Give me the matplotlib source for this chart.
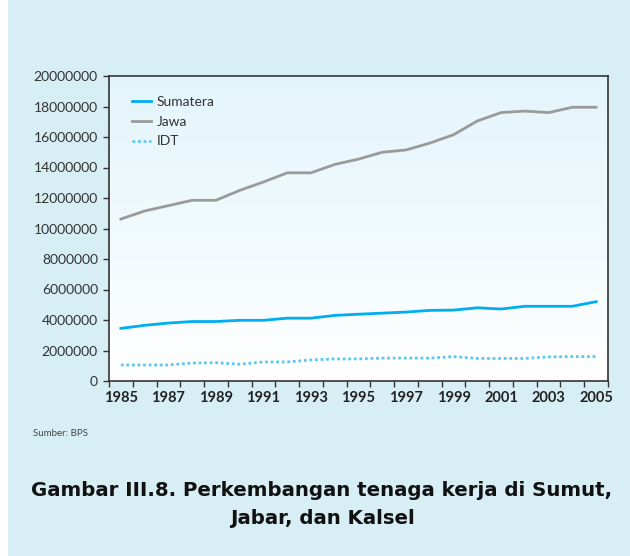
import numpy as np
import matplotlib
matplotlib.use('Agg')
from matplotlib import pyplot as plt
from matplotlib.patches import Rectangle

# data
years = [str(y) for y in range(1985, 2006)]
sumatera = [3450000, 3650000, 3800000, 3900000, 3900000, 3980000, 3980000, 4120000, 4120000,
            4300000, 4380000, 4450000, 4520000, 4630000, 4650000, 4800000, 4720000, 4900000,
            4900000, 4900000, 5200000]
jawa = [10620000, 11150000, 11500000, 11850000, 11850000, 12500000, 13050000, 13650000, 13650000,
        14200000, 14550000, 15000000, 15150000, 15600000, 16150000, 17050000, 17600000, 17700000,
        17600000, 17950000, 17950000]
idt = [1050000, 1050000, 1050000, 1180000, 1200000, 1100000, 1250000, 1250000, 1380000,
       1450000, 1450000, 1500000, 1500000, 1500000, 1600000, 1480000, 1480000, 1480000,
       1580000, 1600000, 1600000]
y_ticks = list(range(0, 20000001, 2000000))

plt.rcParams['font.family'] = ['Lato', 'DejaVu Sans']

bg = '#d8eef5'
fig = plt.figure(figsize=(6.3, 5.56), dpi=100, facecolor=bg)
# white strip on the left edge
fig.patches.append(Rectangle((0, 0), 8 / 630, 1, transform=fig.transFigure,
                             facecolor='white', edgecolor='none', zorder=0))

ax = fig.add_axes([109 / 630, 1 - 381 / 556, 499 / 630, 305 / 556])
x = np.arange(len(years))

# gradient plot background (light blue at top, white at bottom)
grad = np.linspace(0, 1, 256).reshape(-1, 1)
top = np.array([0.89, 0.96, 0.985])
bottom = np.array([1.0, 1.0, 1.0])
img = bottom + (top - bottom) * grad
ax.imshow(img.reshape(256, 1, 3), extent=[0, 1, 0, 1], transform=ax.transAxes,
          aspect='auto', origin='lower', zorder=0)

ax.plot(x, sumatera, color='#00aeef', lw=2.0, label='Sumatera', zorder=3)
ax.plot(x, jawa, color='#9a9a9a', lw=2.0, label='Jawa', zorder=3)
ax.plot(x, idt, color='#5cc8f2', lw=2.0, ls=(0, (1, 1)), label='IDT', zorder=3)

ax.set_xlim(-0.5, len(years) - 0.5)
ax.set_ylim(0, 20000000)
ax.set_xticks(np.arange(-0.5, len(years), 1))
ax.set_xticklabels([])
ax.set_xticks(x[::2], minor=True)
ax.set_xticklabels(years[::2], minor=True, fontweight='bold', fontsize=10.5, color='#222222')
ax.tick_params(axis='x', which='minor', length=0, pad=7)
ax.tick_params(axis='x', which='major', length=4, width=1, color='#333333')
ax.set_yticks(y_ticks)
ax.set_yticklabels([str(v) for v in y_ticks], fontsize=10, color='#333333')
ax.tick_params(axis='y', length=4, width=1, color='#333333', pad=4)
for s in ax.spines.values():
    s.set_color('#333333')
    s.set_linewidth(1.2)

leg = ax.legend(loc='upper left', bbox_to_anchor=(0.022, 0.975), frameon=False,
                fontsize=10, handlelength=1.35, handletextpad=0.4, labelspacing=0.55)
for t in leg.get_texts():
    t.set_color('#333333')

fig.text(33 / 630, 1 - 433 / 556, 'Sumber: BPS', fontsize=7, color='#444444', va='center')
fig.text(322 / 630, 1 - 491 / 556, 'Gambar III.8. Perkembangan tenaga kerja di Sumut,',
         fontsize=14.2, fontweight='bold', ha='center', va='center', color='#111111',
         family='DejaVu Sans')
fig.text(322 / 630, 1 - 518 / 556, 'Jabar, dan Kalsel',
         fontsize=14.2, fontweight='bold', ha='center', va='center', color='#111111',
         family='DejaVu Sans')

fig.savefig('out.png', dpi=100, facecolor=bg)
